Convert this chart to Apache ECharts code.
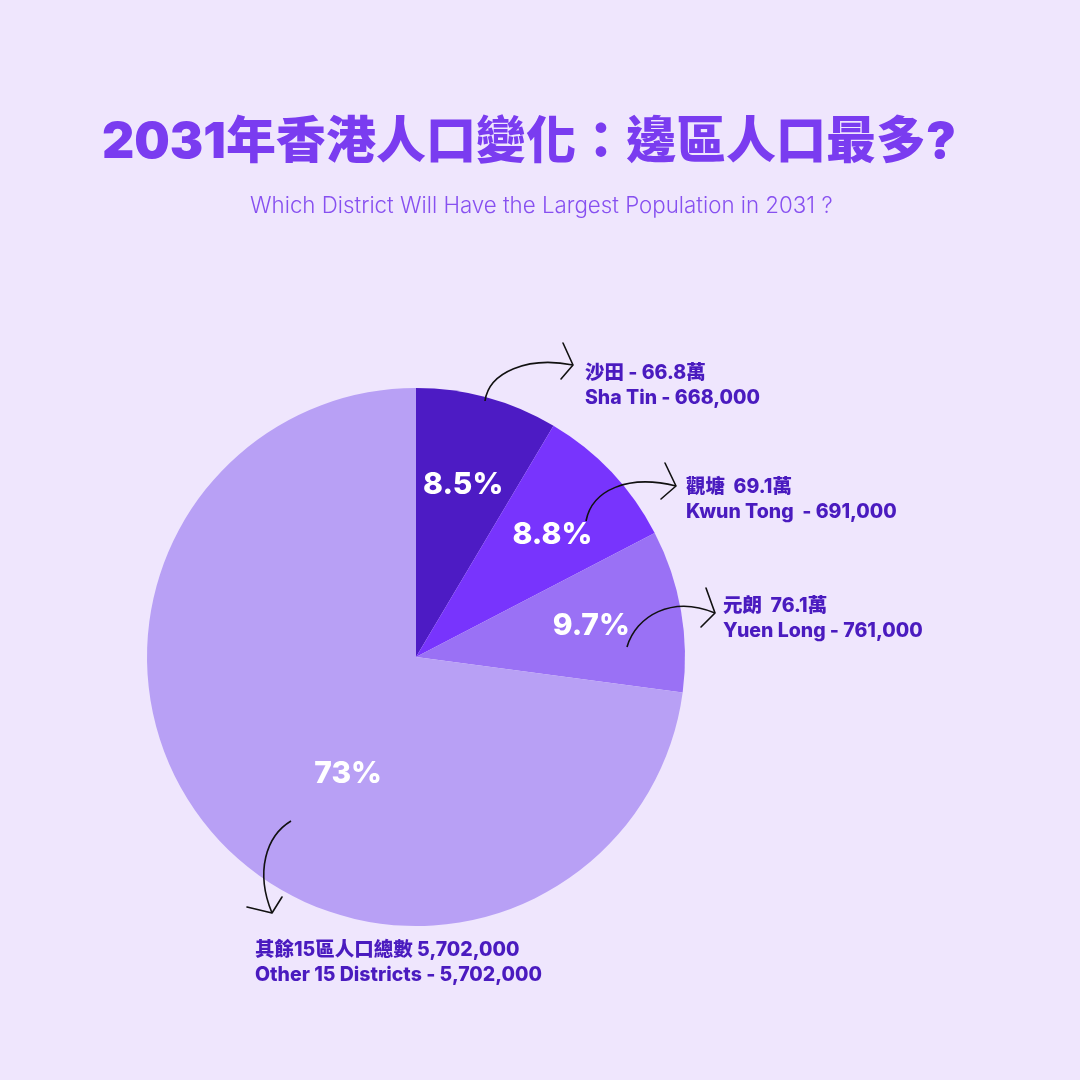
<!DOCTYPE html>
<html>
<head>
<meta charset="utf-8">
<script src="https://cdn.jsdelivr.net/npm/echarts@6/dist/echarts.min.js"></script>
<style>
  html, body { margin: 0; padding: 0; background: #efe6fd; }
  #chart { width: 1080px; height: 1080px; }
</style>
</head>
<body>
<div id="chart"></div>
<script>
// 數據
const districts = ['Sha Tin', 'Kwun Tong', 'Yuen Long', 'Other 15 Districts']
const population = [668000, 691000, 761000, 5702000]
const pctLabels = ['8.5%', '8.8%', '9.7%', '73%']
const zhLabels = ['沙田 - 66.8萬', '觀塘  69.1萬', '元朗  76.1萬', '其餘15區人口總數 5,702,000']
const enLabels = ['Sha Tin - 668,000', 'Kwun Tong  - 691,000', 'Yuen Long - 761,000', 'Other 15 Districts - 5,702,000']
const sliceColors = ['#4d1bc4', '#7834fd', '#9a71f5', '#b8a0f5']

const chart = echarts.init(document.getElementById('chart'))

const textColor = '#4a1bbf'
const fontEn = 'Inter, "Noto Sans CJK TC", sans-serif'

// 標籤文字位置
const labelPos = [[585, 361], [686, 475], [723, 594], [255, 938]]
const labelGraphics = []
labelPos.forEach((p, i) => {
  labelGraphics.push({
    type: 'text',
    left: p[0], top: p[1],
    style: {
      text: zhLabels[i] + '\n' + enLabels[i],
      font: '800 19.5px ' + fontEn,
      fill: textColor,
      lineHeight: 25
    }
  })
})

// 手繪箭頭
const arrows = [
  { c: [485, 401, 489, 372, 528, 356, 573, 365], h: [[563, 343], [573, 365], [561, 379]] },
  { c: [586, 521, 592, 490, 628, 474, 676, 486], h: [[665, 463], [676, 486], [661, 499]] },
  { c: [627, 647, 636, 616, 672, 595, 715, 613], h: [[706, 588], [715, 613], [701, 627]] },
  { c: [291, 821, 266, 836, 255, 872, 272, 913], h: [[247, 907], [272, 913], [282, 897]] }
]
const arrowGraphics = []
arrows.forEach(a => {
  arrowGraphics.push({
    type: 'bezierCurve',
    shape: { x1: a.c[0], y1: a.c[1], cpx1: a.c[2], cpy1: a.c[3], cpx2: a.c[4], cpy2: a.c[5], x2: a.c[6], y2: a.c[7] },
    style: { stroke: '#111', lineWidth: 1.6, fill: null },
    z: 10
  })
  arrowGraphics.push({
    type: 'polyline',
    shape: { points: a.h },
    style: { stroke: '#111', lineWidth: 1.6, fill: null, lineJoin: 'round', lineCap: 'round' },
    z: 10
  })
})

const pieData = districts.map((d, i) => ({
  name: d,
  value: population[i],
  itemStyle: { color: sliceColors[i] }
}))

const labelData = districts.map((d, i) => ({
  name: d,
  value: population[i],
  label: i === 3 ? { padding: [8, 0, 0, 132] } : (i === 1 ? { padding: [0, 0, 0, 14] } : {})
}))

const options = {
  backgroundColor: '#efe6fd',
  title: [
    {
      text: '2031年香港人口變化：邊區人口最多?',
      left: 97,
      top: 113,
      textStyle: {
        fontFamily: fontEn,
        fontWeight: 900,
        fontSize: 50,
        color: '#7a3cf0'
      }
    },
    {
      text: 'Which District Will Have the Largest Population in 2031 ?',
      left: 245,
      top: 190,
      textStyle: {
        fontFamily: fontEn,
        fontWeight: 300,
        fontSize: 22.3,
        color: '#8750f0'
      }
    }
  ],
  series: [
    {
      type: 'pie',
      center: [416, 657],
      radius: [0, 269],
      startAngle: 90,
      clockwise: true,
      silent: true,
      label: { show: false },
      labelLine: { show: false },
      itemStyle: { borderWidth: 0 },
      data: pieData
    },
    {
      // 百分比標籤
      type: 'pie',
      center: [416, 657],
      radius: [80, 270],
      startAngle: 90,
      clockwise: true,
      silent: true,
      itemStyle: { color: 'rgba(0,0,0,0)', borderWidth: 0 },
      labelLine: { show: false },
      label: {
        show: true,
        position: 'inside',
        formatter: p => pctLabels[p.dataIndex],
        color: '#ffffff',
        fontFamily: fontEn,
        fontWeight: 800,
        fontSize: 30
      },
      data: labelData
    }
  ],
  graphic: labelGraphics.concat(arrowGraphics)
}
chart.setOption(options)
</script>
</body>
</html>
